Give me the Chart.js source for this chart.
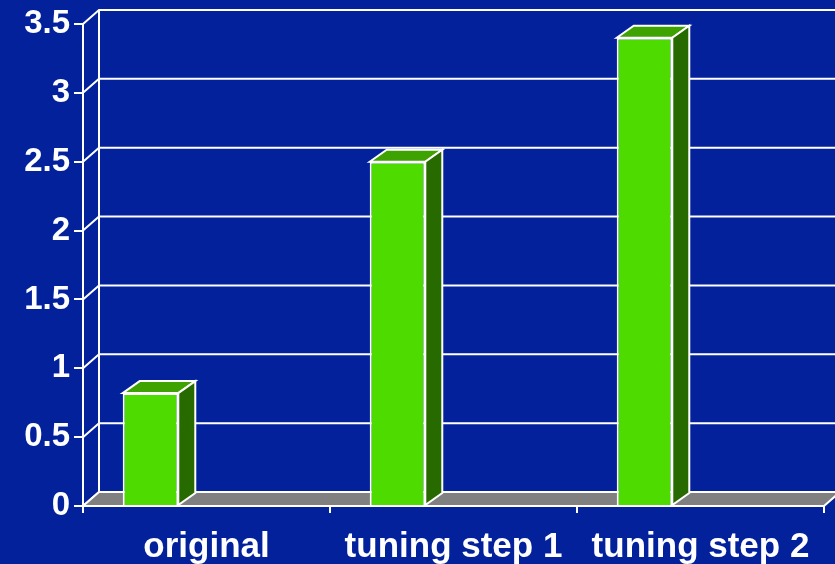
<!DOCTYPE html>
<html>
<head>
<meta charset="utf-8">
<script src="https://cdn.jsdelivr.net/npm/chart.js@4/dist/chart.umd.min.js"></script>
<style>
    html, body { margin: 0; padding: 0; background: #02219b; }
    canvas { display: block; }
</style>
</head>
<body>
<canvas id="speedupChart" width="835" height="564"></canvas>
<script>
const categories = ['original', 'tuning step 1', 'tuning step 2'];
const speedup = [0.82, 2.5, 3.4];
const yTicks = [0, 0.5, 1, 1.5, 2, 2.5, 3, 3.5];

const BG = '#02219b';
const LINE = '#ffffff';
const WALL_DX = 16, WALL_DY = 14;   // depth of the back wall
const BAR_DX = 17, BAR_DY = 12;     // depth of each column
const BAR_SHIFT = -56;              // columns sit left of the category centre

function path(ctx, pts) {
    ctx.beginPath();
    ctx.moveTo(pts[0][0], pts[0][1]);
    for (let i = 1; i < pts.length; i++) ctx.lineTo(pts[i][0], pts[i][1]);
    ctx.closePath();
}

const box3d = {
    id: 'box3d',
    beforeDraw(chart) {
        const ctx = chart.ctx;
        ctx.save();
        ctx.fillStyle = BG;
        ctx.fillRect(0, 0, chart.width, chart.height);
        ctx.restore();
    },
    beforeDatasetsDraw(chart) {
        const ctx = chart.ctx;
        const area = chart.chartArea;
        const y = chart.scales.y;
        const backLeft = area.left + WALL_DX;

        ctx.save();
        ctx.strokeStyle = LINE;
        ctx.lineWidth = 2;

        // back wall grid and the slanted joins to the front axis
        yTicks.forEach(v => {
            const py = y.getPixelForValue(v);
            ctx.beginPath();
            ctx.moveTo(area.left, py);
            ctx.lineTo(backLeft, py - WALL_DY);
            ctx.lineTo(chart.width, py - WALL_DY);
            ctx.stroke();
        });
        ctx.beginPath();
        ctx.moveTo(backLeft, y.getPixelForValue(yTicks[yTicks.length - 1]) - WALL_DY);
        ctx.lineTo(backLeft, y.getPixelForValue(0) - WALL_DY);
        ctx.stroke();

        // floor
        const fy = y.getPixelForValue(0);
        path(ctx, [[area.left, fy], [backLeft, fy - WALL_DY],
                   [area.right + WALL_DX, fy - WALL_DY], [area.right, fy]]);
        ctx.fillStyle = '#808080';
        ctx.fill();
        ctx.stroke();
        ctx.restore();

        ctx.save();
        ctx.translate(BAR_SHIFT, 0);
    },
    afterDatasetsDraw(chart) {
        const ctx = chart.ctx;
        const meta = chart.getDatasetMeta(0);
        ctx.lineWidth = 2;
        ctx.strokeStyle = LINE;
        ctx.lineJoin = 'miter';
        meta.data.forEach(bar => {
            const l = bar.x - bar.width / 2;
            const r = bar.x + bar.width / 2;
            const t = bar.y;
            const b = bar.base;
            // top face
            path(ctx, [[l, t], [l + BAR_DX, t - BAR_DY], [r + BAR_DX, t - BAR_DY], [r, t]]);
            ctx.fillStyle = '#3ea200';
            ctx.fill();
            ctx.stroke();
            // side face
            path(ctx, [[r, t], [r + BAR_DX, t - BAR_DY], [r + BAR_DX, b - BAR_DY], [r, b]]);
            ctx.fillStyle = '#276a00';
            ctx.fill();
            ctx.stroke();
        });
        ctx.restore();
    }
};

const ctx = document.getElementById('speedupChart').getContext('2d');
new Chart(ctx, {
    type: 'bar',
    data: {
        labels: categories,
        datasets: [{
            data: speedup,
            backgroundColor: '#4ddb00',
            borderColor: LINE,
            borderWidth: 2,
            barPercentage: 0.25,
            categoryPercentage: 0.9,
            clip: false
        }]
    },
    options: {
        responsive: false,
        animation: false,
        devicePixelRatio: 1,
        layout: { padding: { top: 24, right: 11, left: 0, bottom: 0 } },
        plugins: { legend: { display: false }, tooltip: { enabled: false } },
        scales: {
            x: {
                afterFit: scale => { scale.height = 58; },
                grid: { drawOnChartArea: false, drawTicks: true, tickLength: 7, color: LINE, lineWidth: 2 },
                border: { display: true, color: LINE, width: 2 },
                ticks: {
                    color: LINE,
                    padding: 13,
                    maxRotation: 0,
                    autoSkip: false,
                    font: { family: 'Liberation Sans, Arial, sans-serif', size: 35, weight: 'bold' }
                }
            },
            y: {
                min: 0,
                max: 3.5,
                afterFit: scale => { scale.width = 83; },
                grid: { drawOnChartArea: false, drawTicks: true, tickLength: 9, color: LINE, lineWidth: 2 },
                border: { display: true, color: LINE, width: 2 },
                ticks: {
                    stepSize: 0.5,
                    color: LINE,
                    padding: 4,
                    callback: value => String(value),
                    font: { family: 'Liberation Sans, Arial, sans-serif', size: 33, weight: 'bold' }
                }
            }
        }
    },
    plugins: [box3d]
});
</script>
</body>
</html>
